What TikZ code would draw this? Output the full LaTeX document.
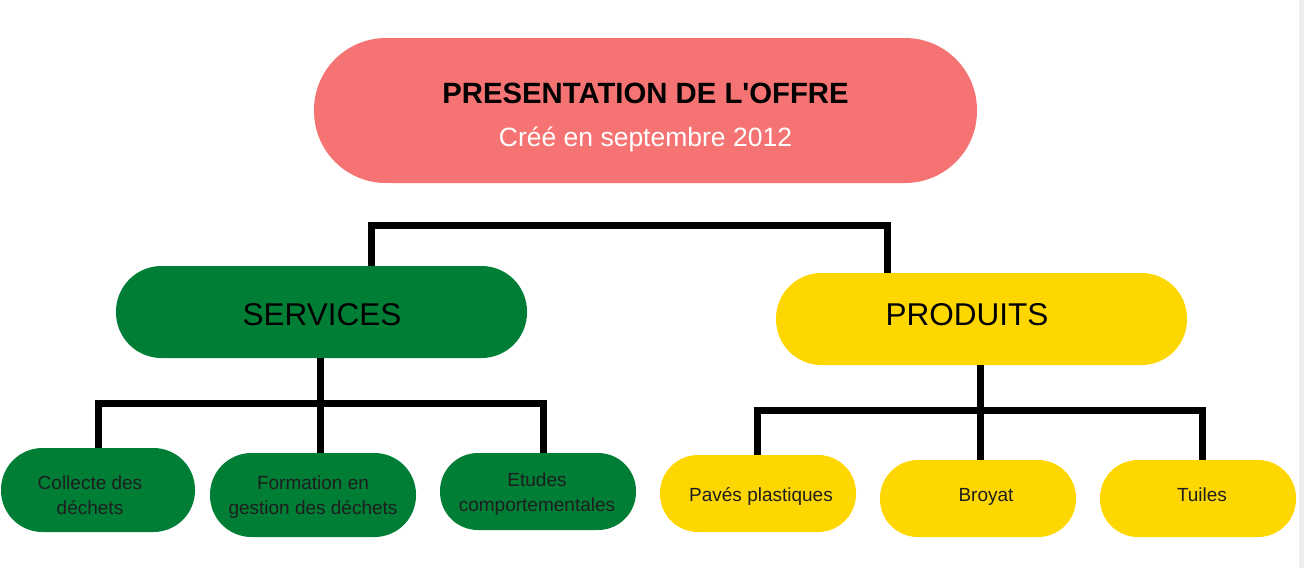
\documentclass[tikz,border=0pt]{standalone}
\usepackage{fontspec}
\setmainfont{Liberation Sans}
\newfontfamily\plainfam{Liberation Sans}
\definecolor{pinkc}{HTML}{F67373}
\definecolor{greenc}{HTML}{007E36}
\definecolor{yellowc}{HTML}{FED700}
\definecolor{txtc}{HTML}{1E1E1E}
\definecolor{edgec}{HTML}{EDEDED}
\newcommand\titlefont{\plainfam\fontsize{29.3}{34}\selectfont\bfseries}
\newcommand\subfont{\fontsize{26.5}{31}\selectfont}
\newcommand\catfont{\fontsize{31.5}{36}\selectfont}
\newcommand\childfont{\fontsize{19}{25}\selectfont}
\tikzset{
  pill/.style={draw=none, inner sep=0pt, outer sep=0pt},
  conn/.style={draw=black, line width=7pt, line join=miter},
  txt/.style={anchor=base, inner sep=0pt, text=txtc},
}
\begin{document}
\begin{tikzpicture}[x=1pt,y=-1pt]
\useasboundingbox (0,0) rectangle (1304,568);
\fill[edgec] (1299,0) rectangle (1304,568);

% boxes
\node[pill, fill=pinkc, minimum width=663pt, minimum height=145pt, rounded corners=72pt] (top) at (645.5,110.5) {};
\node[pill, fill=greenc, minimum width=411pt, minimum height=92pt, rounded corners=45.5pt] (sv) at (321.5,312) {};
\node[pill, fill=yellowc, minimum width=411pt, minimum height=92pt, rounded corners=45.5pt] (pr) at (981.5,319) {};
\node[pill, fill=greenc, minimum width=194pt, minimum height=84pt, rounded corners=41.5pt] (c1) at (98,490) {};
\node[pill, fill=greenc, minimum width=206pt, minimum height=84pt, rounded corners=41.5pt] (c2) at (313,495) {};
\node[pill, fill=greenc, minimum width=196pt, minimum height=77pt, rounded corners=38pt] (c3) at (538,491.5) {};
\node[pill, fill=yellowc, minimum width=196pt, minimum height=77pt, rounded corners=38pt] (p1) at (758,493.5) {};
\node[pill, fill=yellowc, minimum width=196pt, minimum height=77pt, rounded corners=38pt] (p2) at (978,498.5) {};
\node[pill, fill=yellowc, minimum width=196pt, minimum height=77pt, rounded corners=38pt] (p3) at (1198,498.5) {};

% texts
\node[txt, text=black] (ttitle) at (645.5,103) {\titlefont PRESENTATION DE L'OFFRE};
\node[txt, text=white] (tsub) at (645.5,146) {\subfont Créé en septembre 2012};
\node[txt, text=black] (tsv) at (322,325) {\catfont SERVICES};
\node[txt, text=black] (tpr) at (967,325) {\catfont PRODUITS};
\node[txt] (tc1) at (90,489) {\childfont\begin{tabular}[t]{@{}c@{}}Collecte des\\déchets\end{tabular}};
\node[txt] (tc2) at (313,489) {\childfont\begin{tabular}[t]{@{}c@{}}Formation en\\gestion des déchets\end{tabular}};
\node[txt] (tc3) at (537,486) {\childfont\begin{tabular}[t]{@{}c@{}}Etudes\\comportementales\end{tabular}};
\node[txt] (tp1) at (761,501) {\childfont Pavés plastiques};
\node[txt] (tp2) at (986,501) {\childfont Broyat};
\node[txt] (tp3) at (1202,501) {\childfont Tuiles};

% connectors
\coordinate (b1) at (371,225);
\coordinate (b2) at (887,225);
\draw[conn] (b1 |- sv.north) -- (b1) -- (b2) -- (b2 |- pr.north);

\coordinate (sL) at (98,403);
\coordinate (sM) at (320,403);
\coordinate (sR) at (543,403);
\draw[conn] (sL |- c1.north) -- (sL) -- (sR) -- (sR |- c3.north);
\draw[conn] (sM |- sv.south) -- (sM |- c2.north);

\coordinate (pL) at (757,410);
\coordinate (pM) at (980,410);
\coordinate (pR) at (1202,410);
\draw[conn] (pL |- p1.north) -- (pL) -- (pR) -- (pR |- p3.north);
\draw[conn] (pM |- pr.south) -- (pM |- p2.north);
\end{tikzpicture}
\end{document}
